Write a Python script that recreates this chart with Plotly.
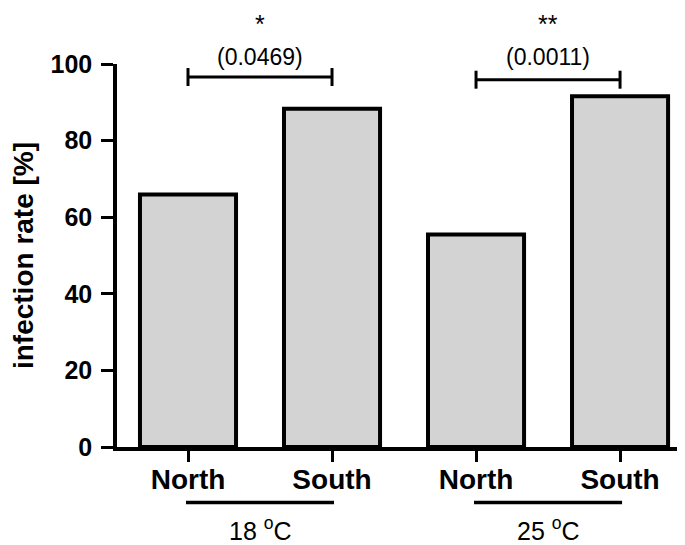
import plotly.graph_objects as go

# ---- data ----
categories = ["North", "South", "North", "South"]
values = [65.9, 88.3, 55.5, 91.6]
groups = ["18 <sup>o</sup>C", "25 <sup>o</sup>C"]
group_members = [(0, 1), (2, 3)]
pvalues = ["(0.0469)", "(0.0011)"]
stars = ["*", "**"]
bracket_levels = [96.6, 95.9]
y_ticks = [0, 20, 40, 60, 80, 100]

OFF = 8  # browser body margin
W, H = 685 - OFF, 545 - OFF
AX_X, AX_TOP, AX_BOT = 117, 63.5, 447  # target viewport pixels
ML = AX_X - OFF
MT = AX_TOP - OFF
plot_h = AX_BOT - AX_TOP
MB = H - MT - plot_h
px_per_unit = plot_h / 100.0

def paper_y(px_view):
    return (AX_BOT - px_view) / plot_h

xpos = list(range(len(categories)))
FONT = "Liberation Sans, Arial, sans-serif"

fig = go.Figure()
fig.add_trace(go.Bar(
    x=xpos, y=values, width=0.667,
    marker=dict(color="#d3d3d3", line=dict(color="black", width=4)),
    showlegend=False, hoverinfo="skip",
))

shapes = []
annotations = []
cap = 9 / px_per_unit
for (a, b), lvl, pv, st in zip(group_members, bracket_levels, pvalues, stars):
    shapes.append(dict(type="line", xref="x", yref="y", x0=a, x1=b, y0=lvl, y1=lvl,
                       line=dict(color="black", width=3)))
    for xx in (a, b):
        shapes.append(dict(type="line", xref="x", yref="y", x0=xx, x1=xx,
                           y0=lvl - cap, y1=lvl + cap, line=dict(color="black", width=3)))
    mid = (a + b) / 2
    annotations.append(dict(x=mid, y=paper_y(56), xref="x", yref="paper", text=pv, showarrow=False,
                            font=dict(family=FONT, size=23, color="black"), yanchor="middle"))
    annotations.append(dict(x=mid, y=paper_y(23), xref="x", yref="paper", text=st, showarrow=False,
                            font=dict(family=FONT, size=25, color="black"), yanchor="middle"))

for (a, b), g in zip(group_members, groups):
    shapes.append(dict(type="line", xref="x", yref="paper", x0=a - 0.014, x1=b + 0.014,
                       y0=paper_y(502.5), y1=paper_y(502.5), line=dict(color="black", width=3.5)))
    annotations.append(dict(x=(a + b) / 2, y=paper_y(529), xref="x", yref="paper", text=g,
                            showarrow=False, yanchor="middle",
                            font=dict(family=FONT, size=25, color="black")))

fig.update_layout(
    width=W, height=H,
    margin=dict(l=ML, r=0, t=MT, b=MB, pad=0),
    plot_bgcolor="white", paper_bgcolor="white",
    shapes=shapes, annotations=annotations,
    xaxis=dict(range=[-0.493, 3.451], tickvals=xpos, ticktext=categories,
               showline=True, linecolor="black", linewidth=3.5,
               ticks="outside", ticklen=11, tickwidth=3, tickcolor="black",
               tickfont=dict(family=FONT, size=28, color="black", weight="bold"),
               ticklabelstandoff=-6,
               showgrid=False, zeroline=False, fixedrange=True),
    yaxis=dict(range=[0, 100], tickvals=y_ticks,
               showline=True, linecolor="black", linewidth=3.5,
               ticks="outside", ticklen=12, tickwidth=3, tickcolor="black",
               tickfont=dict(family=FONT, size=25, color="black", weight="bold"),
               ticklabelstandoff=4,
               title=dict(text="infection rate [%]", standoff=20,
                          font=dict(family=FONT, size=28, color="black", weight="bold")),
               showgrid=False, zeroline=False, fixedrange=True),
)

fig.write_html("out.html")
